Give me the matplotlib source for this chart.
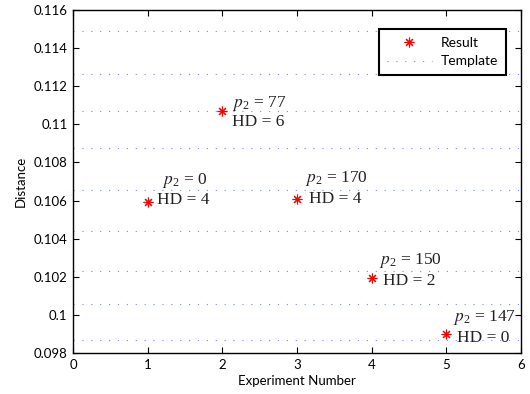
import matplotlib
matplotlib.use("Agg")
import matplotlib.pyplot as plt

# experiment results
experiments = [1, 2, 3, 4, 5]
distances = [0.1059, 0.11071, 0.1061, 0.10192, 0.09902]
p2_values = [0, 77, 170, 150, 147]
hd_values = [4, 6, 4, 2, 0]

# template distance levels (dotted lines)
template_levels = [0.1149, 0.11264, 0.1107, 0.10877, 0.10653,
                   0.10441, 0.10229, 0.10056, 0.0987]

x_ticks = [0, 1, 2, 3, 4, 5, 6]
y_ticks = [0.098, 0.100, 0.102, 0.104, 0.106, 0.108, 0.110, 0.112, 0.114, 0.116]
y_ticklabels = ["0.098", "0.1", "0.102", "0.104", "0.106", "0.108",
                "0.11", "0.112", "0.114", "0.116"]

# label offsets in points: (p2 dx, p2 dy, HD dx, HD dy)
label_offsets = [(10, 16, 6.5, 2), (7, 5.5, 7, -7.7), (6, 14.5, 9, 0),
                 (5, 12.7, 8, -1.7), (5, 11.5, 8, -3)]

plt.rcParams["font.family"] = ["Lato", "DejaVu Sans"]
plt.rcParams["mathtext.fontset"] = "stix"

fig = plt.figure(figsize=(5.3, 3.94), dpi=100)
ax = fig.add_axes([0.1377, 0.104, 0.8453, 0.8706])

tmpl_color = (0.45, 0.55, 0.9)
for i, lvl in enumerate(template_levels):
    ax.plot([x_ticks[0], x_ticks[-1]], [lvl, lvl], color=tmpl_color,
            linestyle=(0, (1, 7)), linewidth=0.8,
            label="Template" if i == 0 else None, zorder=1)

ax.plot(experiments, distances, linestyle="none", marker=(8, 2, 0),
        markersize=7, markeredgecolor="red", markeredgewidth=0.8,
        color="red", label="Result", zorder=3)

for x, y, p2, hd, off in zip(experiments, distances, p2_values, hd_values, label_offsets):
    ax.annotate(r"$p_{\mathregular{2}}$ = %d" % p2, (x, y), xytext=(off[0], off[1]),
                textcoords="offset points", ha="left", va="center",
                family="Liberation Serif", fontsize=12.5, color="#222222")
    ax.annotate("HD = %d" % hd, (x, y), xytext=(off[2], off[3]),
                textcoords="offset points", ha="left", va="center",
                family="Liberation Serif", fontsize=12.5, color="#222222")

ax.set_xlim(0, 6)
ax.set_ylim(0.098, 0.116)
ax.set_xticks(x_ticks)
ax.set_yticks(y_ticks)
ax.set_yticklabels(y_ticklabels)
ax.tick_params(direction="in", top=True, right=True, length=4, width=0.8,
               labelsize=9.5, pad=4)
for s in ax.spines.values():
    s.set_linewidth(1.0)

ax.set_xlabel("Experiment Number", fontsize=9.5, labelpad=3)
ax.set_ylabel("Distance", fontsize=9.5, labelpad=5)

handles, labels = ax.get_legend_handles_labels()
order = [labels.index("Result"), labels.index("Template")]
leg = ax.legend([handles[i] for i in order], [labels[i] for i in order],
                loc="upper right", bbox_to_anchor=(0.966, 0.945), fontsize=10,
                fancybox=False, framealpha=1, edgecolor="black",
                handlelength=3.3, borderpad=0.55, labelspacing=0.5,
                handletextpad=0.6, borderaxespad=0)
leg.get_frame().set_linewidth(1.5)
leg.set_zorder(5)

fig.savefig("out.png", dpi=100)
